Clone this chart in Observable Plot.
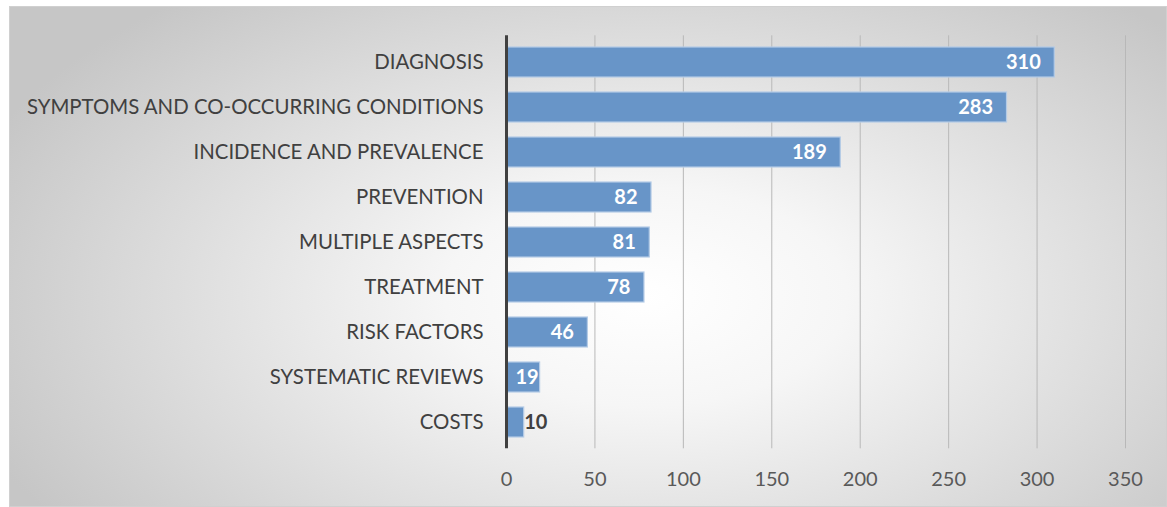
<!DOCTYPE html>
<html>
<head>
<meta charset="utf-8">
<script src="https://cdn.jsdelivr.net/npm/d3@7"></script>
<script src="https://cdn.jsdelivr.net/npm/@observablehq/plot@0.6"></script>
<style>
  html, body { margin: 0; padding: 0; background: #ffffff; }
  #box {
    position: absolute; left: 9px; top: 6px; width: 1158px; height: 501px;
    background: radial-gradient(ellipse 62% 78% at 55% 58%, #ffffff 0%, #f6f6f6 28%, #c6c6c6 100%);
    box-shadow: inset 0 0 0 1px #d0d0d0;
  }
  #box svg { display: block; background: transparent; }
</style>
</head>
<body>
<div id="box"></div>
<script>
const categories = [
  "DIAGNOSIS",
  "SYMPTOMS AND CO-OCCURRING CONDITIONS",
  "INCIDENCE AND PREVALENCE",
  "PREVENTION",
  "MULTIPLE ASPECTS",
  "TREATMENT",
  "RISK FACTORS",
  "SYSTEMATIC REVIEWS",
  "COSTS"
];
const counts = [310, 283, 189, 82, 81, 78, 46, 19, 10];
const xTicks = [0, 50, 100, 150, 200, 250, 300, 350];

const data = categories.map((c, i) => ({category: c, count: counts[i]}));
const longBars = data.filter(d => d.count >= 30);
const shortBars = data.filter(d => d.count >= 15 && d.count < 30);
const tinyBars = data.filter(d => d.count < 15);

const font = "Lato, 'Open Sans', sans-serif";

const chart = Plot.plot({
  width: 1158,
  height: 501,
  marginLeft: 497,
  marginRight: 42,
  marginTop: 29.3,
  marginBottom: 58.7,
  style: {fontFamily: font, background: "transparent", overflow: "visible"},
  x: {domain: [0, 350], ticks: xTicks, label: null},
  y: {domain: categories, paddingInner: 0.34, paddingOuter: 0.175, label: null},
  marks: [
    Plot.gridX(xTicks.filter(t => t > 0), {stroke: "#b8b8b8", strokeOpacity: 1, strokeWidth: 1}),
    Plot.barX(data, {y: "category", x: "count", fill: "#6895c8", stroke: "#b4cbe6", strokeWidth: 1.2}),
    Plot.ruleX([0], {stroke: "#404040", strokeWidth: 3}),
    Plot.text(longBars, {y: "category", x: "count", text: d => String(d.count), textAnchor: "end", dx: -14, fill: "#ffffff", fontWeight: "bold", fontSize: 20}),
    Plot.text(shortBars, {y: "category", x: 0, text: d => String(d.count), textAnchor: "start", dx: 9, fill: "#ffffff", fontWeight: "bold", fontSize: 20}),
    Plot.text(tinyBars, {y: "category", x: "count", text: d => String(d.count), textAnchor: "start", dx: 0, fill: "#404040", fontWeight: "bold", fontSize: 20}),
    Plot.axisX(xTicks, {tickSize: 0, tickPadding: 23, fontSize: 20, fill: "#595959", label: null}),
    Plot.axisY({tickSize: 0, tickPadding: 23, fontSize: 20.4, fill: "#404040", label: null})
  ]
});
document.getElementById("box").appendChild(chart);
</script>
</body>
</html>
